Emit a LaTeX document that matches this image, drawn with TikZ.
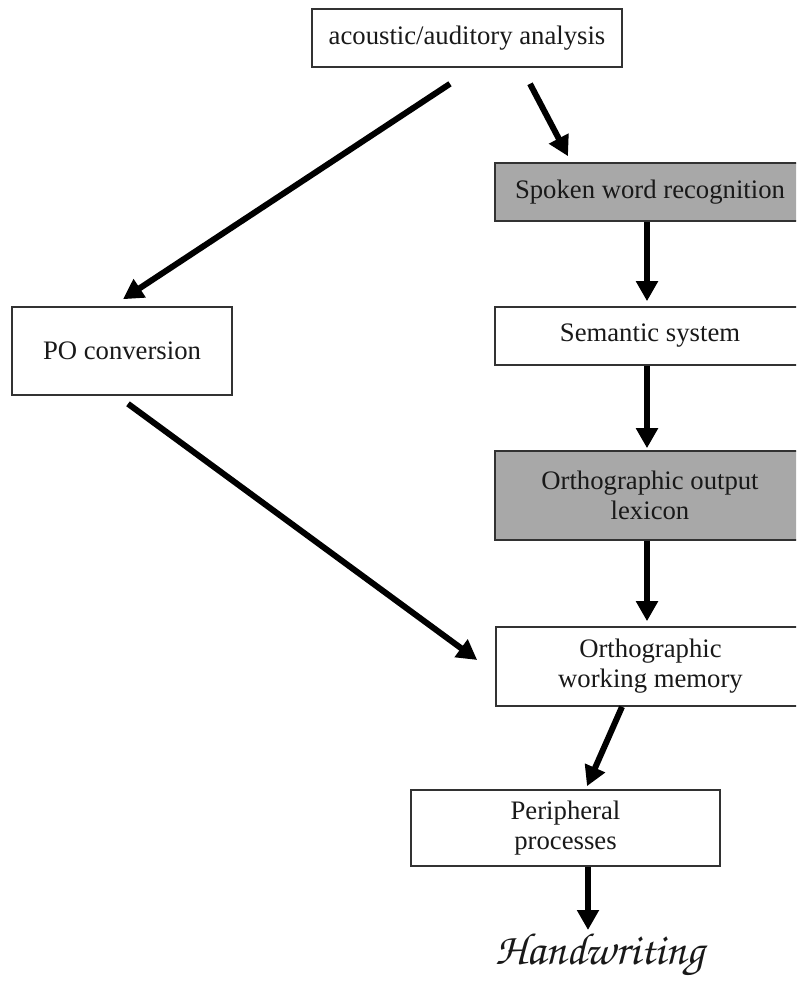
\documentclass[tikz,border=0pt]{standalone}
\usepackage{fontspec}
\setmainfont{Liberation Serif}
\usetikzlibrary{arrows.meta,calc}
\definecolor{boxgray}{RGB}{168,168,168}
\definecolor{edge}{RGB}{50,50,50}
\definecolor{ink}{RGB}{25,25,25}
\tikzset{
  box/.style={draw=edge, line width=1.6pt, rectangle, inner sep=0pt, align=center,
    text=ink, font=\fontsize{26.7}{30}\selectfont},
  shaded/.style={box, fill=boxgray},
  plain/.style={box, fill=white},
  arr/.style={line width=6pt, draw=black, -{Triangle[length=20pt,width=21pt]}},
}
\begin{document}
\begin{tikzpicture}[x=1pt,y=1pt]
\useasboundingbox (0,0) rectangle (796,-983);
\begin{scope}
\clip (0,0) rectangle (796,-983);
\node[plain, minimum width=310pt, minimum height=58pt] (top) at (467,-38) {acoustic/auditory analysis};
\node[shaded, minimum width=310pt, minimum height=58pt] (spoken) at (650,-192) {Spoken word recognition};
\node[plain, minimum width=310pt, minimum height=58pt] (sem) at (650,-336) {Semantic system};
\node[shaded, minimum width=310pt, minimum height=89pt] (lex) at (650,-495.5) {Orthographic output\\lexicon};
\node[plain, minimum width=309pt, minimum height=79pt] (wm) at (650.5,-666.5) {Orthographic\\working memory};
\node[plain, minimum width=220pt, minimum height=88pt] (po) at (122,-351) {PO conversion};
\node[plain, minimum width=309pt, minimum height=76pt] (per) at (565.5,-828) {Peripheral\\processes};
\node[text=ink, inner sep=0pt] (hw) at (600,-955)
  {\fontencoding{T1}\fontfamily{pzc}\fontsize{45}{45}\selectfont Handwriting};

\draw[arr] ($(top.south)+(-17,-16)$) -- ($(po.north)+(1,7)$);
\draw[arr] ($(top.south)+(63,-16)$) -- ($(spoken.north)+(-82,6)$);
\draw[arr] ($(spoken.south)+(-3,0)$) -- ($(sem.north)+(-3,5)$);
\draw[arr] ($(sem.south)+(-3,0)$) -- ($(lex.north)+(-3,2)$);
\draw[arr] ($(lex.south)+(-3,0)$) -- ($(wm.north)+(-3.5,5)$);
\draw[arr] ($(po.south)+(6,-8)$) -- ($(wm.west)+(-18,6.5)$);
\draw[arr] ($(wm.south)+(-28.5,0)$) -- ($(per.north)+(21.5,3)$);
\draw[arr] ($(per.south)+(22.5,0)$) -- ($(hw.center)+(-12,25)$);
\end{scope}
\end{tikzpicture}
\end{document}
